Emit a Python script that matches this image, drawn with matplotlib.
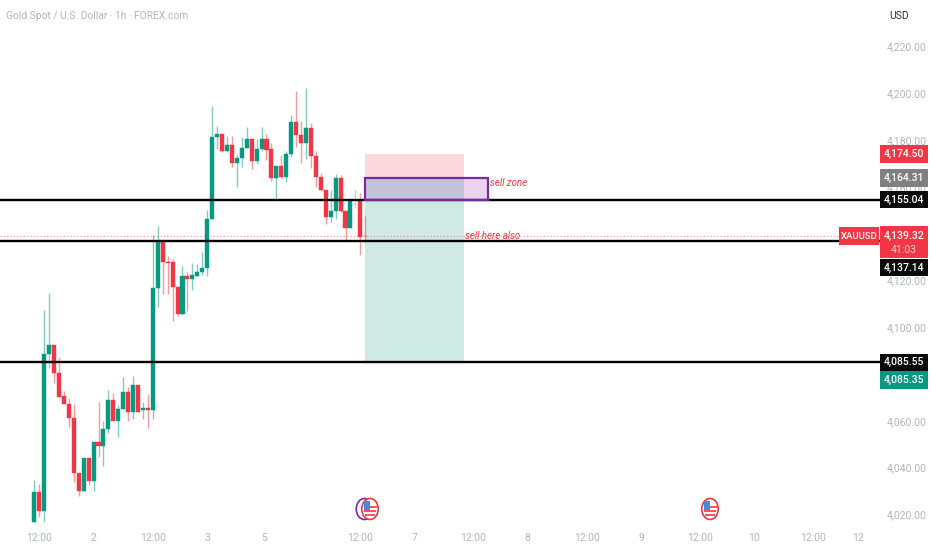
import matplotlib
matplotlib.use("Agg")
import matplotlib.pyplot as plt
from matplotlib.patches import Rectangle, Ellipse
from matplotlib.transforms import blended_transform_factory, ScaledTranslation

plt.rcParams['font.family'] = ['Roboto', 'DejaVu Sans']

GREEN = "#089981"
RED = "#F23645"
GREY = "#B2B5BE"
PURPLE = "#7B2A9E"

# hourly candles
opens = [4017.1, 4030.0, 4022.1, 4089.1, 4093.1, 4080.8, 4070.9, 4067.7, 4061.8, 4038.4,
         4030.7, 4044.7, 4034.7, 4051.3, 4049.6, 4056.8, 4069.4, 4060.3, 4065.6, 4073.0,
         4064.1, 4075.9, 4065.0, 4065.9, 4065.0, 4117.3, 4136.8, 4128.5, 4128.2, 4117.9,
         4106.2, 4122.3, 4120.9, 4122.6, 4124.0, 4125.9, 4146.8, 4182.0, 4183.1, 4175.6,
         4178.5, 4170.7, 4172.9, 4177.1, 4181.0, 4171.7, 4176.7, 4181.0, 4176.7, 4164.1,
         4169.6, 4164.6, 4174.7, 4188.1, 4182.7, 4179.3, 4185.7, 4173.8, 4164.9, 4159.2,
         4147.5, 4150.0, 4164.1, 4150.3, 4142.8, 4154.6, 4155.0, 4139.6]
highs = [4035.0, 4033.5, 4107.9, 4115.2, 4093.1, 4087.9, 4073.1, 4070.3, 4067.7, 4038.4,
         4044.7, 4044.7, 4051.3, 4068.4, 4060.6, 4073.7, 4072.4, 4067.4, 4079.4, 4075.1,
         4079.7, 4075.9, 4068.4, 4072.0, 4140.1, 4143.9, 4137.5, 4131.1, 4129.7, 4117.9,
         4126.8, 4124.0, 4128.1, 4127.6, 4132.8, 4150.6, 4195.2, 4186.7, 4183.1, 4182.4,
         4182.4, 4174.3, 4181.7, 4186.2, 4181.0, 4181.0, 4186.2, 4183.1, 4179.3, 4169.6,
         4174.3, 4176.0, 4191.4, 4201.6, 4188.8, 4202.8, 4187.6, 4175.7, 4166.3, 4159.2,
         4159.2, 4166.0, 4165.6, 4150.3, 4155.0, 4159.3, 4157.7, 4148.2]
lows = [4017.1, 4019.3, 4017.1, 4083.2, 4076.5, 4070.6, 4067.7, 4057.7, 4034.2, 4028.4,
        4030.7, 4033.2, 4030.4, 4044.9, 4041.1, 4055.2, 4060.3, 4053.5, 4065.6, 4060.6,
        4061.3, 4064.1, 4061.3, 4057.3, 4061.3, 4109.0, 4114.7, 4114.7, 4103.3, 4105.5,
        4105.9, 4107.6, 4116.2, 4122.6, 4122.9, 4122.6, 4146.8, 4176.7, 4175.3, 4175.3,
        4168.8, 4160.3, 4169.1, 4177.1, 4168.2, 4170.3, 4176.0, 4172.1, 4163.2, 4154.9,
        4164.4, 4162.4, 4173.4, 4177.7, 4170.6, 4172.4, 4168.6, 4160.6, 4158.9, 4144.7,
        4145.6, 4146.8, 4149.6, 4136.8, 4142.8, 4151.6, 4131.4, 4136.8]
closes = [4030.0, 4022.1, 4089.1, 4093.1, 4080.8, 4070.6, 4067.7, 4061.8, 4038.4, 4030.7,
          4044.7, 4034.7, 4051.3, 4049.6, 4056.8, 4069.4, 4060.3, 4065.6, 4073.0, 4064.1,
          4075.9, 4064.1, 4065.9, 4065.0, 4117.3, 4136.8, 4128.2, 4127.8, 4117.6, 4106.2,
          4122.3, 4120.9, 4122.9, 4124.3, 4125.9, 4146.8, 4182.0, 4183.1, 4175.6, 4178.5,
          4170.7, 4172.9, 4177.1, 4181.0, 4171.7, 4176.7, 4181.0, 4176.4, 4164.1, 4169.6,
          4164.6, 4174.7, 4188.1, 4182.7, 4179.3, 4185.7, 4173.5, 4164.9, 4159.2, 4147.5,
          4150.0, 4164.1, 4150.3, 4142.8, 4154.6, 4155.0, 4139.0, 4139.32]

x_tick_pos = [1, 11.9, 24, 35, 46.5, 66, 76.9, 88.8, 99.7, 111.8, 122.8, 134.8, 145.7, 157.6, 166.7]
x_tick_labels = ["12:00", "2", "12:00", "3", "5", "12:00", "7", "12:00", "8", "12:00", "9",
                 "12:00", "10", "12:00", "12"]
# 4,080 and 4,140 are hidden behind the price boxes in the original
y_ticks = [4020, 4040, 4060, 4100, 4120, 4160, 4180, 4200, 4220]

levels = [4155.04, 4137.14, 4085.55]
last_price = 4139.32
stop_price = 4174.50
zone_top = 4164.31
target_price = 4085.35

W, H = 932, 550
PLOT_W, PLOT_H = 882, 525
BAR_PX = 4.94
FIRST_PX = 34.3
PRICE_PX = 2.34
TOP_PX = 47.6   # pixel row of 4220

fig = plt.figure(figsize=(W / 100, H / 100), dpi=100)
ax = fig.add_axes([0, 1 - PLOT_H / H, PLOT_W / W, PLOT_H / H])
ax.set_xlim(-FIRST_PX / BAR_PX, (PLOT_W - FIRST_PX) / BAR_PX)
ax.set_ylim(4220 - (PLOT_H - TOP_PX) / PRICE_PX, 4220 + TOP_PX / PRICE_PX)
for s in ax.spines.values():
    s.set_visible(False)

ax.set_xticks(x_tick_pos)
ax.set_xticklabels(x_tick_labels)
ax.yaxis.tick_right()
ax.set_yticks(y_ticks)
ax.set_yticklabels(["{:,.2f}".format(v) for v in y_ticks])
ax.tick_params(axis="x", length=0, pad=5.5, labelsize=7.5, labelcolor=GREY)
ax.tick_params(axis="y", length=0, pad=3.6, labelsize=7.5, labelcolor=GREY)
# price labels sit a pixel above their level in the original
for lab in ax.get_yticklabels():
    lab.set_transform(lab.get_transform() + ScaledTranslation(0, 1.2 / 100, fig.dpi_scale_trans))

# position boxes, the green one runs up under the zone
ax.add_patch(Rectangle((67, zone_top), 20, stop_price - zone_top, fc="#FBD9DC", ec="none", zorder=1))
ax.add_patch(Rectangle((67, target_price), 20, zone_top - target_price, fc="#CFEAE5", ec="none", zorder=1))

# candles
for i in range(len(opens)):
    col = GREEN if closes[i] >= opens[i] else RED
    light = i == 65
    ax.vlines(i, lows[i], highs[i], color=col, lw=1.0, alpha=0.35 if light else 0.5, zorder=2)
    if not light:
        ax.bar(i, abs(closes[i] - opens[i]), bottom=min(opens[i], closes[i]), width=0.82,
               color=col, ec=col, lw=0.3, zorder=3)

ax.add_patch(Rectangle((67, levels[0]), 24.9, zone_top - levels[0], fc="#9C27B0", alpha=0.2, ec="none", zorder=4))
ax.add_patch(Rectangle((67, levels[0]), 24.9, zone_top - levels[0], fc="none", ec=PURPLE, lw=1.6, zorder=6))

ax.axhline(last_price, color=RED, lw=0.8, ls=(0, (1, 2)), alpha=0.55, zorder=2)
for lv in levels:
    ax.axhline(lv, color="black", lw=1.7, zorder=5)

ax.text(92.3, 4162.1, "sell zone", color=RED, fontsize=7, style="italic", va="center", zorder=7)
ax.text(87.2, 4139.5, "sell here also", color=RED, fontsize=7, style="italic", va="center", zorder=7)

# price labels on the right
trans = blended_transform_factory(fig.transFigure, ax.transData)


def price_box(price, text, color, half=8.7, x0=880, x1=928, size=7.5):
    ax.add_patch(Rectangle((x0 / W, price - half / PRICE_PX), (x1 - x0) / W, 2 * half / PRICE_PX,
                           fc=color, ec="none", transform=trans, clip_on=False, zorder=8))
    if text:
        ax.text((x0 + x1) / 2 / W, price, text, color="white", fontsize=size, weight="medium",
                ha="center", va="center", transform=trans, zorder=9)


price_box(stop_price, "4,174.50", RED)
price_box(zone_top, "4,164.31", "#808080")
price_box(levels[0], "4,155.04", "#0A0A0A")
price_box(last_price - 6 / PRICE_PX, "", RED, half=16)
price_box(last_price + 0.2, "4,139.32", RED, half=0)
ax.text(904 / W, last_price - 14 / PRICE_PX, "41:03", color="#FFC9CE", fontsize=7.5, ha="center",
        va="center", transform=trans, zorder=9)
# black label is pushed below the last price box
price_box(levels[1] - 11.2, "4,137.14", "#0A0A0A", half=8.3)
price_box(last_price, "XAUUSD", RED, half=9, x0=839, x1=879, size=6.8)
price_box(levels[2], "4,085.55", "#0A0A0A")
price_box(target_price - 7.4, "4,085.35", GREEN)

# overlay in pixel rows for header and event icons
top = fig.add_axes([0, 0, 1, 1], zorder=20)
top.set_xlim(0, W)
top.set_ylim(H, 0)
top.axis("off")
top.patch.set_alpha(0)
top.text(6, 16, "Gold Spot / U.S. Dollar · 1h · FOREX.com", color=GREY, fontsize=7.4, va="center")
top.text(899, 16, "USD", color="#2A2E39", fontsize=7.5, ha="center", va="center")


def flag_icon(cx, cy=509):
    top.add_patch(Ellipse((cx, cy), 16.5, 21, fc="white", ec=RED, lw=1.2))
    top.add_patch(Rectangle((cx - 6, cy + 1), 12, 2.2, fc="#F7525F", ec="none"))
    top.add_patch(Rectangle((cx - 5, cy + 5), 10, 2.2, fc="#F7525F", ec="none"))
    top.add_patch(Rectangle((cx + 0, cy - 3), 6.5, 2.2, fc="#F7525F", ec="none"))
    top.add_patch(Rectangle((cx - 6.5, cy - 8), 6.5, 8.5, fc="#3A8FE0", ec="none"))


top.add_patch(Ellipse((364.5, 509), 16.5, 21, fc="white", ec=PURPLE, lw=1.2))
flag_icon(370)
flag_icon(710)

fig.savefig("out.png", dpi=100, facecolor="white")
